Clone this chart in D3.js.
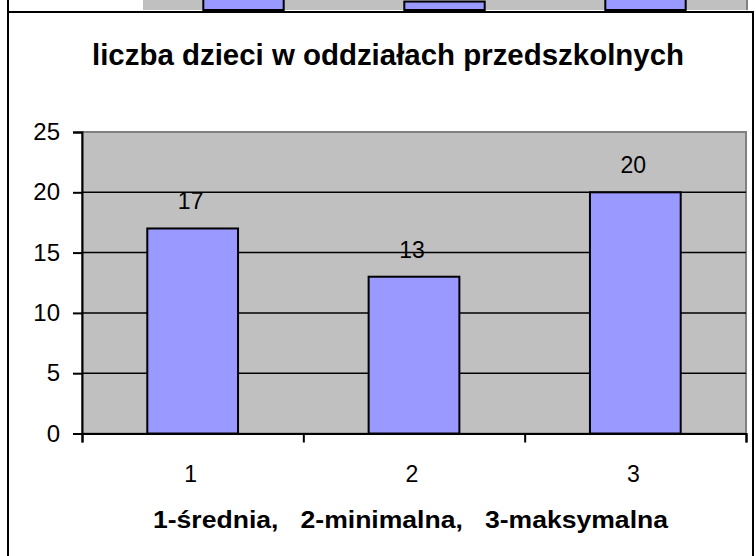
<!DOCTYPE html>
<html>
<head>
<meta charset="utf-8">
<script src="https://cdn.jsdelivr.net/npm/d3@7"></script>
<style>
  body { margin: 0; background: #fff; }
  svg { display: block; font-family: "Liberation Sans", Arial, sans-serif; }
</style>
</head>
<body>
<svg width="756" height="556"></svg>
<script>
// chart data
const categories = ['1', '2', '3'];
const values = [17, 13, 20];
const yTicks = [0, 5, 10, 15, 20, 25];
const title = 'liczba dzieci w oddziałach przedszkolnych';
const xTitle = '1-średnia,   2-minimalna,   3-maksymalna';

// bottom of the previous chart, cut off at the top of the picture
const upperValues = [3, 0.7, 3];

const svg = d3.select('svg');

// --- cut-off chart above ---
const upperX = d3.scaleBand().domain(categories).range([143, 746])
    .paddingInner(0.6).paddingOuter(0.3);
const upperY = d3.scaleLinear().domain([0, 25]).range([10, -291]);

svg.append('line')
    .attr('x1', 8).attr('x2', 8).attr('y1', 0).attr('y2', 12)
    .attr('stroke', '#000').attr('stroke-width', 2);
svg.append('rect')
    .attr('x', 143).attr('y', -5).attr('width', 603).attr('height', 15)
    .attr('fill', '#c0c0c0');
svg.append('line')
    .attr('x1', 747).attr('x2', 747).attr('y1', 0).attr('y2', 10)
    .attr('stroke', '#808080').attr('stroke-width', 2);
svg.append('g').selectAll('rect').data(upperValues)
  .enter().append('rect')
    .attr('x', (d, i) => upperX(categories[i]))
    .attr('y', d => upperY(d))
    .attr('width', upperX.bandwidth())
    .attr('height', d => upperY(0) - upperY(d))
    .attr('fill', '#9999ff')
    .attr('stroke', '#000')
    .attr('stroke-width', 2);

// --- chart frame ---
svg.append('rect')
    .attr('x', 8).attr('y', 12).attr('width', 745).attr('height', 560)
    .attr('fill', '#fff')
    .attr('stroke', '#000').attr('stroke-width', 2);

// title, stretched a little wider like the original
svg.append('text')
    .attr('x', 92).attr('y', 65)
    .attr('font-size', 29).attr('font-weight', 'bold')
    .attr('textLength', 592).attr('lengthAdjust', 'spacingAndGlyphs')
    .text(title);

// --- plot area ---
const plotLeft = 82, plotRight = 746, plotTop = 132, plotBottom = 433.5;

const xScale = d3.scaleBand().domain(categories).range([plotLeft, plotRight])
    .paddingInner(0.59).paddingOuter(0.295);
const yScale = d3.scaleLinear().domain([0, 25]).range([plotBottom, plotTop]);
// helper for tick marks between categories
const xEdges = d3.scaleLinear().domain([0, categories.length]).range([plotLeft, plotRight]);

svg.append('rect')
    .attr('x', plotLeft).attr('y', plotTop)
    .attr('width', plotRight - plotLeft).attr('height', plotBottom - plotTop)
    .attr('fill', '#c0c0c0')
    .attr('stroke', '#808080').attr('stroke-width', 2);

// gridlines
svg.append('g').selectAll('line').data(yTicks.filter(d => d > 0 && d < 25))
  .enter().append('line')
    .attr('x1', plotLeft).attr('x2', plotRight)
    .attr('y1', d => yScale(d)).attr('y2', d => yScale(d))
    .attr('stroke', '#000').attr('stroke-width', 1.5);

// bars
svg.append('g').selectAll('rect').data(values)
  .enter().append('rect')
    .attr('x', (d, i) => xScale(categories[i]))
    .attr('y', d => yScale(d))
    .attr('width', xScale.bandwidth())
    .attr('height', d => yScale(0) - yScale(d))
    .attr('fill', '#9999ff')
    .attr('stroke', '#000').attr('stroke-width', 2);

// value labels
svg.append('g').selectAll('text').data(values)
  .enter().append('text')
    .attr('x', (d, i) => xScale(categories[i]) + xScale.bandwidth() / 2 - 2)
    .attr('y', d => yScale(d) - 19)
    .attr('text-anchor', 'middle')
    .attr('font-size', 23)
    .text(d => d);

// y axis
const yAxisG = svg.append('g')
    .attr('transform', `translate(${plotLeft},0)`)
    .call(d3.axisLeft(yScale).tickValues(yTicks).tickSize(9).tickPadding(13));
yAxisG.selectAll('text').attr('font-size', 24).attr('fill', '#000')
    .attr('font-family', '"Liberation Sans", Arial, sans-serif');

// x axis
const xAxisG = svg.append('g')
    .attr('transform', `translate(0,${plotBottom})`)
    .call(d3.axisBottom(xEdges).tickValues(d3.range(categories.length + 1))
        .tickSize(9).tickFormat(''));

[yAxisG, xAxisG].forEach(g => {
    g.select('.domain').attr('stroke', '#000').attr('stroke-width', 2);
    g.selectAll('.tick line').attr('stroke', '#000').attr('stroke-width', 2);
});

// category labels
svg.append('g').selectAll('text').data(categories)
  .enter().append('text')
    .attr('x', d => xScale(d) + xScale.bandwidth() / 2 - 2)
    .attr('y', 482)
    .attr('text-anchor', 'middle')
    .attr('font-size', 23)
    .text(d => d);

svg.append('text')
    .attr('x', 153).attr('y', 528)
    .attr('font-size', 23).attr('font-weight', 'bold')
    .attr('textLength', 515).attr('lengthAdjust', 'spacingAndGlyphs')
    .attr('xml:space', 'preserve')
    .style('white-space', 'pre')
    .text(xTitle);
</script>
</body>
</html>
